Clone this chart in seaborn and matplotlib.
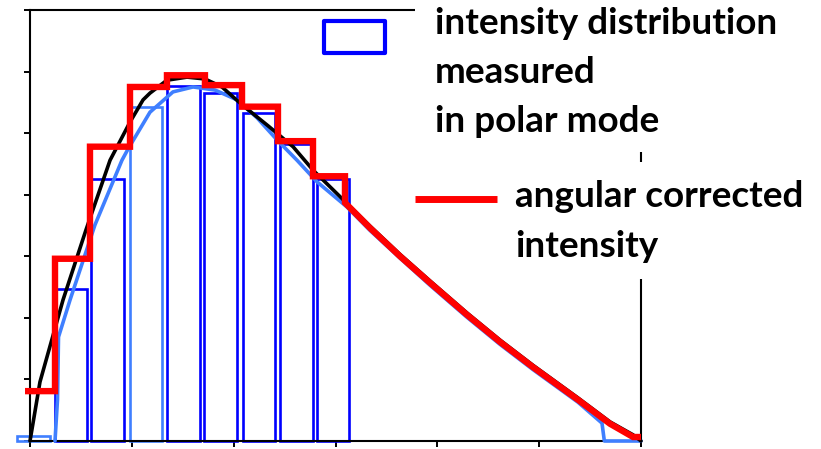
import numpy as np
import pandas as pd
import matplotlib
matplotlib.use("Agg")
import matplotlib.pyplot as plt
import seaborn as sns
from matplotlib.patches import Rectangle
from matplotlib.lines import Line2D

# ---------------- data ----------------
bin_centers = [0.034, 0.403, 0.761, 1.141, 1.507, 1.870, 2.248, 2.617, 2.975]
measured_polar = [0.08, 2.47, 4.26, 5.42, 5.76, 5.66, 5.33, 4.82, 4.26]
bar_shade = ["light", "dark", "dark", "light", "dark", "dark", "dark", "dark", "dark"]

corr_edges = [-0.049, 0.2455, 0.589, 0.982, 1.345, 1.718, 2.082, 2.435, 2.779, 3.093]
corr_steps = [0.81, 2.96, 4.78, 5.75, 5.94, 5.78, 5.43, 4.87, 4.30]
tail_x = [3.093, 3.339, 3.634, 3.928, 4.291, 4.615, 4.939, 5.381, 5.696, 5.922, 6.0]
corr_tail = [3.87, 3.46, 3.00, 2.57, 2.05, 1.61, 1.20, 0.67, 0.28, 0.065, 0.065]

model_x = [0, 0.098, 0.324, 0.550, 0.786, 0.982, 1.110, 1.178, 1.345, 1.542, 1.718,
           1.885, 2.082, 2.337, 2.583, 2.779, 3.093, 3.339, 3.634, 3.928, 4.291,
           4.615, 4.939, 5.381, 5.696, 5.922, 6.0]
model_y = [0, 0.96, 2.29, 3.43, 4.56, 5.18, 5.54, 5.65, 5.86, 5.91, 5.88,
           5.75, 5.46, 5.12, 4.78, 4.40, 3.89, 3.49, 3.03, 2.60, 2.08,
           1.64, 1.23, 0.70, 0.31, 0.10, 0.0]

meas_x = [0.2455, 0.270, 0.280, 0.393, 0.638, 0.903, 0.962, 1.178, 1.404, 1.601,
          1.817, 2.033, 2.229, 2.426, 2.622, 2.818, 3.113, 3.339, 3.634, 3.928,
          4.291, 4.615, 4.939, 5.381, 5.617, 5.640, 6.0]
meas_y = [0, 0.67, 1.69, 2.29, 3.51, 4.56, 4.74, 5.34, 5.67, 5.75,
          5.70, 5.54, 5.25, 4.89, 4.56, 4.21, 3.80, 3.42, 2.97, 2.53,
          2.01, 1.57, 1.16, 0.63, 0.29, 0.0, 0.0]

x_ticks = [0, 1, 2, 3, 4, 5, 6]
y_ticks = [0, 1, 2, 3, 4, 5, 6, 7]

legend_bars_lines = ["intensity distribution", "measured", "in polar mode"]
legend_red_lines = ["angular corrected", "intensity"]

# ---------------- style ----------------
DARK = "#0000FF"
LIGHT = "#3F7FFF"
RED = "#FF0000"

sns.set_style("ticks")
plt.rcParams["font.family"] = ["Lato", "DejaVu Sans"]

W, H = 821, 449
fig = plt.figure(figsize=(W / 100, H / 100), dpi=100)
fig.patch.set_facecolor("white")


def fx(px):
    return px / W


def fy(py):
    return 1 - py / H


ax = fig.add_axes([fx(30), fy(441), (641 - 30) / W, (441 - 10) / H])

# bars: measured intensity distribution (outline only)
df_bars = pd.DataFrame({"angle": bin_centers, "intensity": measured_polar, "shade": bar_shade})
rel_width = 0.32 / np.min(np.diff(bin_centers))
sns.barplot(data=df_bars, x="angle", y="intensity", hue="shade",
            palette={"light": LIGHT, "dark": DARK}, native_scale=True,
            width=rel_width, fill=False, dodge=False, legend=False,
            errorbar=None, linewidth=1.9, ax=ax, clip_on=False, zorder=2)

# measured (light blue) curve
sns.lineplot(x=meas_x, y=meas_y, color=LIGHT, linewidth=2.6, sort=False,
             estimator=None, ax=ax, zorder=3, clip_on=False)
# model (black) curve
sns.lineplot(x=model_x, y=model_y, color="black", linewidth=2.6, sort=False,
             estimator=None, ax=ax, zorder=4, clip_on=False)

# angular corrected intensity: steps followed by the smooth tail
red_x = np.concatenate([np.repeat(corr_edges, 2)[1:-1], tail_x])
red_y = np.concatenate([np.repeat(corr_steps, 2), corr_tail])
sns.lineplot(x=red_x, y=red_y, color=RED, linewidth=4.6, sort=False,
             estimator=None, ax=ax, zorder=5, clip_on=False,
             solid_joinstyle="miter", solid_capstyle="butt")

ax.set_xlim(0, 6)
ax.set_ylim(0, 7)
ax.set_xticks(x_ticks)
ax.set_yticks(y_ticks)
ax.set_xticklabels([])
ax.set_yticklabels([])
ax.set_xlabel("")
ax.set_ylabel("")
for s in ax.spines.values():
    s.set_visible(True)
    s.set_color("black")
    s.set_linewidth(1.5)
ax.tick_params(axis="both", direction="out", length=4.5, width=1.4, color="black",
               top=False, right=False)
ax.set_facecolor("white")

# ---------------- legend (drawn on the figure) ----------------
fig.add_artist(Rectangle((fx(415), fy(152)), (W - 415) / W, 152 / H,
                         transform=fig.transFigure, facecolor="white",
                         edgecolor="none", zorder=5))
fig.add_artist(Rectangle((fx(505), fy(279)), (W - 505) / W, (279 - 162) / H,
                         transform=fig.transFigure, facecolor="white",
                         edgecolor="none", zorder=5))
fig.add_artist(Rectangle((fx(324), fy(53)), (385 - 324) / W, (53 - 21) / H,
                         transform=fig.transFigure, facecolor="white",
                         edgecolor=DARK, linewidth=3.0, joinstyle="round", zorder=6))
fig.add_artist(Line2D([fx(415), fx(497)], [fy(199), fy(199)], transform=fig.transFigure,
                      color=RED, linewidth=5.0, solid_capstyle="butt", zorder=6))

texts = []
base1 = [34, 83, 132]
for s, b in zip(legend_bars_lines, base1):
    texts.append(fig.text(fx(435), fy(b), s, ha="left", va="baseline",
                          fontsize=20, fontweight="bold", color="black", zorder=7))
base2 = [207, 257]
for s, b in zip(legend_red_lines, base2):
    texts.append(fig.text(fx(515), fy(b), s, ha="left", va="baseline",
                          fontsize=20, fontweight="bold", color="black", zorder=7))

# fit font size so that the first line spans the reference width
fig.canvas.draw()
r = fig.canvas.get_renderer()
w1 = texts[0].get_window_extent(r).width
w2 = texts[3].get_window_extent(r).width
scale = 0.5 * (345 / w1 + 288 / w2)
for t in texts:
    t.set_fontsize(20 * scale)

fig.savefig("out.png", dpi=100, facecolor="white")
